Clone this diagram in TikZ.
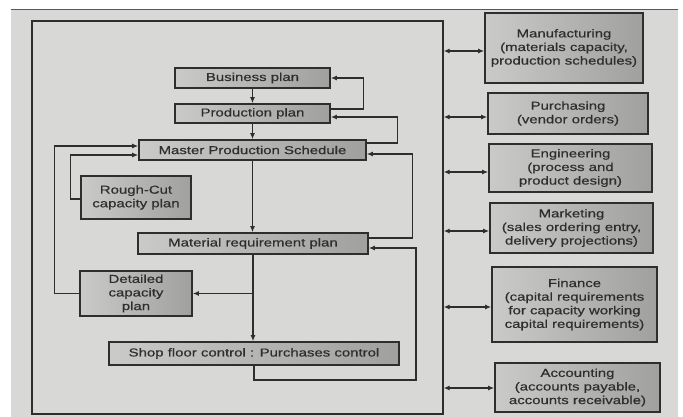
\documentclass[tikz,border=0pt]{standalone}
\usepackage{fontspec}
\setmainfont[FakeStretch=1.3,FakeBold=0.5]{Liberation Sans}
\usetikzlibrary{arrows.meta}
\definecolor{ink}{HTML}{2E2E2E}
\definecolor{paper}{HTML}{D8D8D6}
\definecolor{boxl}{HTML}{CACAC8}
\definecolor{boxr}{HTML}{A0A09E}
\tikzset{
  blk/.style={draw=ink, line width=1.6pt, left color=boxl, right color=boxr,
    align=center, inner sep=1pt, text=ink,
    font=\fontsize{11.5}{13.6}\selectfont},
  conn/.style={draw=ink, line width=1.3pt},
  >={Latex[length=6pt,width=5pt]}
}
\begin{document}
\begin{tikzpicture}[x=1pt,y=-1pt]
\useasboundingbox (0,0) rectangle (683,417);
\fill[white] (0,0) rectangle (683,417);
\fill[paper] (11,10) rectangle (678,417);
\draw[ink!80, line width=1pt] (11,10) -- (678,10);
% main frame
\node[draw=ink, line width=1.3pt, minimum width=411pt, minimum height=393pt, inner sep=0pt] (frame) at (237.5,217.5) {};
% left boxes
\node[blk, minimum width=155pt, minimum height=20pt] (bus) at (252.5,78) {Business plan};
\node[blk, minimum width=155pt, minimum height=19pt] (prod) at (252.5,113.5) {Production plan};
\node[blk, minimum width=227pt, minimum height=20pt] (mps) at (252.5,150) {Master Production Schedule};
\node[blk, minimum width=110pt, minimum height=43pt] (rough) at (136,197.5) {Rough-Cut\\capacity plan};
\node[blk, minimum width=230pt, minimum height=21pt] (mrp) at (253,243.5) {Material requirement plan};
\node[blk, minimum width=112pt, minimum height=45pt] (det) at (136,293.5) {Detailed\\capacity\\plan};
\node[blk, minimum width=290pt, minimum height=23pt] (shop) at (254,353.5) {Shop floor control : Purchases control};
% right boxes
\node[blk, minimum width=158pt, minimum height=70pt] (man) at (564,48) {Manufacturing\\(materials capacity,\\production schedules)};
\node[blk, minimum width=160pt, minimum height=41pt] (pur) at (568,113.5) {Purchasing\\(vendor orders)};
\node[blk, minimum width=163pt, minimum height=48pt] (eng) at (570.5,168) {Engineering\\(process and\\product design)};
\node[blk, minimum width=163pt, minimum height=50pt] (mkt) at (571.5,228) {Marketing\\(sales ordering entry,\\delivery projections)};
\node[blk, minimum width=165pt, minimum height=75pt] (fin) at (574.5,304.5) {Finance\\(capital requirements\\for capacity working\\capital requirements)};
\node[blk, minimum width=165pt, minimum height=49pt] (acc) at (577.5,387.5) {Accounting\\(accounts payable,\\accounts receivable)};
% vertical flow
\draw[conn,->] (bus.south) -- (prod.north);
\draw[conn,->] (prod.south) -- (mps.north);
\draw[conn,->] (mps.south) -- (mps.south |- mrp.north);
\draw[conn,->] (mrp.south) -- (mrp.south |- shop.north);
\coordinate (br) at (mrp.south |- det.east);
\draw[conn,->] (br) -- (det.east);
% feedback loops
\draw[conn,->] ([yshift=4.5pt]prod.east) -- ++(33,0) |- (bus.east);
\draw[conn,->] ([yshift=7pt]mps.east) -- ++(31,0) |- ([yshift=-3.5pt]prod.east);
\draw[conn,->] ([yshift=5.5pt]mrp.east) -- ++(44,0) |- ([yshift=-4pt]mps.east);
\coordinate (sc) at (416,380);
\draw[conn,->] (shop.south) |- (sc) |- ([yshift=-4.5pt]mrp.east);
\draw[conn,->] (det.west) -- ++(-25,0) |- ([yshift=4pt]mps.west);
\draw[conn,->] ([yshift=-1.5pt]rough.west) -- ++(-10,0) |- ([yshift=-5pt]mps.west);
% right links
\foreach \b/\dy in {man/-3,pur/-3.5,eng/-4,mkt/-3,fin/-2.5,acc/-0.5}{
  \draw[conn,<->] ([yshift=\dy pt]\b.west -| frame.east) -- ([yshift=\dy pt]\b.west);
}
\end{tikzpicture}
\end{document}
